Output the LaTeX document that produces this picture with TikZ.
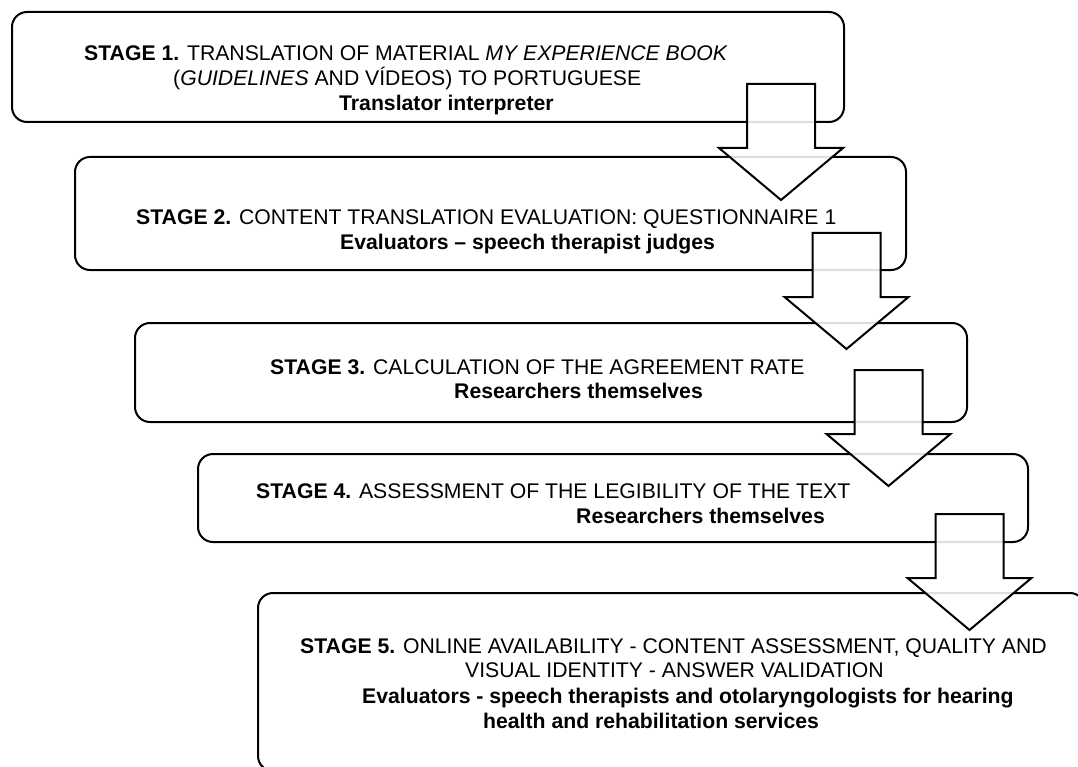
\documentclass[tikz,border=0pt]{standalone}
\usepackage{fontspec}
\setmainfont{Liberation Sans}
\begin{document}
\begin{tikzpicture}[x=1pt,y=-1pt,
  stagebox/.style={draw=black,line width=2pt,rounded corners=15pt,rectangle,inner sep=0pt,fill=white},
  txt/.style={anchor=base west,inner sep=0pt,font=\fontsize{21.2}{25}\selectfont},
  blockarrow/.style={draw=black,line width=2pt,fill=white,fill opacity=0.87,line join=miter}]
\useasboundingbox (0,0) rectangle (1078,767);
\clip (0,0) rectangle (1078,767);
% boxes
\node[stagebox,minimum width=832pt,minimum height=110pt] (b1) at (428,67) {};
\node[stagebox,minimum width=831pt,minimum height=113pt] (b2) at (490.5,213.5) {};
\node[stagebox,minimum width=832pt,minimum height=99pt] (b3) at (551,372.5) {};
\node[stagebox,minimum width=830pt,minimum height=88pt] (b4) at (613,498) {};
\node[stagebox,minimum width=827pt,minimum height=178pt] (b5) at (671.5,682) {};
% texts
\node[txt] (t11) at (84,61) {\textbf{STAGE 1.} TRANSLATION OF MATERIAL \textit{MY EXPERIENCE BOOK}};
\node[txt] (t12) at (173,86) {(\textit{GUIDELINES} AND VÍDEOS) TO PORTUGUESE};
\node[txt] (t13) at (339,111) {\textbf{Translator interpreter}};
\node[txt] (t21) at (136,225) {\textbf{STAGE 2.} CONTENT TRANSLATION EVALUATION: QUESTIONNAIRE 1};
\node[txt] (t22) at (340,250) {\textbf{Evaluators – speech therapist judges}};
\node[txt] (t31) at (270,374) {\textbf{STAGE 3.} CALCULATION OF THE AGREEMENT RATE};
\node[txt] (t32) at (454,398) {\textbf{Researchers themselves}};
\node[txt] (t41) at (256,498) {\textbf{STAGE 4.} ASSESSMENT OF THE LEGIBILITY OF THE TEXT};
\node[txt] (t42) at (576,523) {\textbf{Researchers themselves}};
\node[txt] (t51) at (300,653) {\textbf{STAGE 5.} ONLINE AVAILABILITY - CONTENT ASSESSMENT, QUALITY AND};
\node[txt] (t52) at (465,677) {VISUAL IDENTITY - ANSWER VALIDATION};
\node[txt] (t53) at (362,703) {\textbf{Evaluators - speech therapists and otolaryngologists for hearing}};
\node[txt] (t54) at (483,728) {\textbf{health and rehabilitation services}};
% block arrows
\foreach \cx/\ty in {781/84, 846.5/233, 888.5/370, 969.5/514}{
  \draw[blockarrow] (\cx-34,\ty) -- (\cx+34,\ty) -- (\cx+34,\ty+64) -- (\cx+62,\ty+64)
    -- (\cx,\ty+116) -- (\cx-62,\ty+64) -- (\cx-34,\ty+64) -- cycle;
}
\end{tikzpicture}
\end{document}
